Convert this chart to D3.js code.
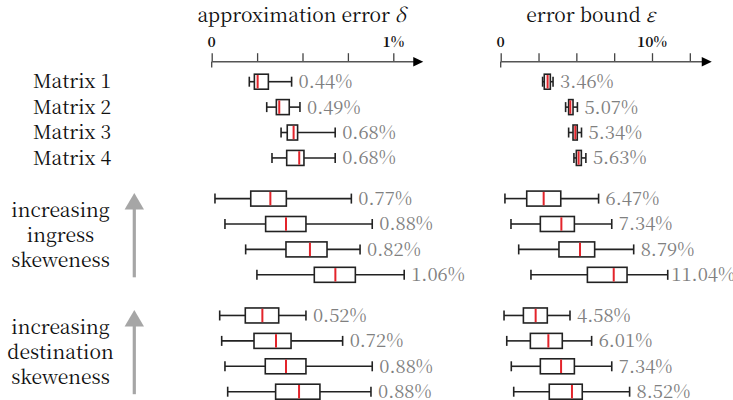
<!DOCTYPE html>
<html><head><meta charset="utf-8">
<script src="https://cdn.jsdelivr.net/npm/d3@7"></script>
<style>body{margin:0;background:#fff}svg{display:block}</style>
</head><body>
<svg id="c" width="733" height="400"></svg>
<script>
// ---- data ----
const matrixNames = ["Matrix 1","Matrix 2","Matrix 3","Matrix 4"];
const groupLabels = [["increasing","ingress","skeweness"],["increasing","destination","skeweness"]];
const rowGroup = [0,0,0,0, 1,1,1,1, 2,2,2,2];
const rowInGroup = [0,1,2,3, 0,1,2,3, 0,1,2,3];

const deltaMin = [0.207,0.303,0.382,0.332, 0.018,0.073,0.187,0.249, 0.044,0.055,0.073,0.088];
const deltaQ1  = [0.235,0.356,0.416,0.413, 0.215,0.297,0.409,0.565, 0.185,0.233,0.295,0.352];
const deltaMed = [0.253,0.372,0.451,0.482, 0.323,0.409,0.541,0.681, 0.279,0.354,0.409,0.481];
const deltaQ3  = [0.312,0.427,0.473,0.508, 0.411,0.519,0.635,0.791, 0.369,0.437,0.519,0.596];
const deltaMax = [0.44,0.486,0.68,0.68, 0.769,0.884,0.817,1.06, 0.519,0.721,0.884,0.877];
const deltaLabels = ["0.44%","0.49%","0.68%","0.68%","0.77%","0.88%","0.82%","1.06%","0.52%","0.72%","0.88%","0.88%"];

const epsMin = [2.77,4.29,4.49,4.84, 0.28,0.68,1.19,2.0, 0.22,0.40,0.70,0.86];
const epsQ1  = [2.88,4.49,4.78,5.0, 1.72,2.62,3.85,5.73, 1.5,1.96,2.62,3.21];
const epsMed = [3.10,4.60,4.93,5.15, 2.84,4.01,5.24,7.47, 2.31,3.15,3.99,4.71];
const epsQ3  = [3.28,4.78,5.06,5.33, 3.97,4.87,6.21,8.35, 3.08,4.07,4.87,5.39];
const epsMax = [3.46,5.07,5.34,5.63, 6.47,7.34,8.79,11.04, 4.58,6.01,7.34,8.52];
const epsLabels = ["3.46%","5.07%","5.34%","5.63%","6.47%","7.34%","8.79%","11.04%","4.58%","6.01%","7.34%","8.52%"];

const deltaTicks = [0,0.25,0.5,0.75,1];
const deltaTickLabels = [[0,"0"],[1,"1%"]];
const epsTicks = [0,2.5,5,7.5,10,12.5];
const epsTickLabels = [[0,"0"],[10,"10%"]];

// ---- layout ----
const W = 733;
const svg = d3.select("#c");
const serif = "'Noto Serif CJK SC', 'Liberation Serif', serif";
const groupGap = 4.6;
const slot = (i) => rowGroup[i]*groupGap + rowInGroup[i];
const y = d3.scaleLinear().domain([0, 2*groupGap+3]).range([81.7, 391.7]);
const xD = d3.scaleLinear().domain([0,1]).range([211.7, 393.3]);
const xE = d3.scaleLinear().domain([0,10]).range([500.7, 652]);
const axisY = 61.7;
const boxH = 15, capH = 10;
const rows = d3.range(matrixNames.length*3);

function panel(x, mins, q1, med, q3, maxs, labels, ticks, tickLabels, axisEnd, title, sym, titleX) {
  const g = svg.append("g");
  const t = g.append("text").attr("x", titleX).attr("y", 21.5)
    .attr("text-anchor","middle").style("font-family", serif).style("font-size","19.3px").attr("fill","#111");
  t.append("tspan").text(title + " ");
  t.append("tspan").style("font-style","italic").text(sym);
  const ax = g.append("g").attr("transform", `translate(0,${axisY})`)
    .call(d3.axisTop(x).tickValues(ticks).tickSize(8.5).tickFormat(""));
  ax.select(".domain").remove();
  ax.selectAll(".tick line").attr("stroke","#444").attr("stroke-width",1.3);
  g.append("line").attr("x1", x(0)).attr("x2", x(0)).attr("y1", axisY).attr("y2", axisY+5.7)
    .attr("stroke","#444").attr("stroke-width",1.3);
  g.append("line").attr("x1", x(0)).attr("x2", x(axisEnd)-8).attr("y1", axisY).attr("y2", axisY)
    .attr("stroke","#555").attr("stroke-width",1.5);
  const tip = x(axisEnd);
  g.append("path").attr("d", `M${tip},${axisY} L${tip-10},${axisY-4.7} L${tip-10},${axisY+4.7} Z`).attr("fill","#000");
  g.selectAll("text.tl").data(tickLabels).join("text").attr("class","tl")
    .attr("x", d => x(d[0])).attr("y", 47.3).attr("text-anchor","middle")
    .style("font-family", serif).style("font-size","14px").style("font-weight","bold").attr("fill","#111")
    .text(d => d[1]);
  const b = g.selectAll("g.box").data(rows).join("g").attr("class","box");
  b.append("line").attr("x1", i => x(mins[i])).attr("x2", i => x(q1[i])).attr("y1", i => y(slot(i))).attr("y2", i => y(slot(i)));
  b.append("line").attr("x1", i => x(q3[i])).attr("x2", i => x(maxs[i])).attr("y1", i => y(slot(i))).attr("y2", i => y(slot(i)));
  b.append("line").attr("x1", i => x(mins[i])).attr("x2", i => x(mins[i])).attr("y1", i => y(slot(i))-capH/2).attr("y2", i => y(slot(i))+capH/2);
  b.append("line").attr("x1", i => x(maxs[i])).attr("x2", i => x(maxs[i])).attr("y1", i => y(slot(i))-capH/2).attr("y2", i => y(slot(i))+capH/2);
  b.append("rect").attr("x", i => x(q1[i])).attr("width", i => x(q3[i])-x(q1[i]))
    .attr("y", i => y(slot(i))-boxH/2).attr("height", boxH).attr("fill","#fff");
  b.selectAll("line").attr("stroke","#222").attr("stroke-width",1.6);
  b.select("rect").attr("stroke","#222").attr("stroke-width",1.6);
  b.append("line").attr("x1", i => x(med[i])).attr("x2", i => x(med[i]))
    .attr("y1", i => y(slot(i))-boxH/2+0.8).attr("y2", i => y(slot(i))+boxH/2-0.8)
    .attr("stroke","#e3242b").attr("stroke-width",2);
  b.append("text").attr("y", i => y(slot(i))+6.4)
    .style("font-family", serif).style("font-size","18.5px").attr("fill","#808080")
    .text(i => labels[i])
    .attr("x", function(i) {
      const w = this.getComputedTextLength();
      return Math.max(x(maxs[i])+3.5, Math.min(x(maxs[i])+7, W-1-w));
    });
}

panel(xD, deltaMin, deltaQ1, deltaMed, deltaQ3, deltaMax, deltaLabels, deltaTicks, deltaTickLabels, 1.165, "approximation error", "δ", 301.7);
panel(xE, epsMin, epsQ1, epsMed, epsQ3, epsMax, epsLabels, epsTicks, epsTickLabels, 13.95, "error bound", "ε", 590.8);

svg.selectAll("text.mn").data(matrixNames).join("text").attr("class","mn")
  .attr("x", 111).attr("y", (d,i) => y(slot(i))+6.6).attr("text-anchor","end")
  .style("font-family", serif).style("font-size","19.3px").attr("fill","#111").text(d => d);

groupLabels.forEach((lines, gi) => {
  const first = (gi+1)*4, last = first+3;
  const cy = (y(slot(first)) + y(slot(last)))/2;
  svg.append("g").selectAll("text").data(lines).join("text")
    .attr("x", 60.5).attr("y", (d,k) => cy + (k-1)*25 + 5.5)
    .attr("text-anchor","middle").style("font-family", serif).style("font-size","19.3px").attr("fill","#111")
    .text(d => d);
  const top = y(slot(first)) - 5.5, bot = y(slot(last)) + 2.5;
  svg.append("line").attr("x1",134.3).attr("x2",134.3).attr("y1", top+14).attr("y2", bot)
    .attr("stroke","#a6a6a6").attr("stroke-width",3.2);
  svg.append("path").attr("d", `M134.3,${top} L144,${top+16.5} L124.6,${top+16.5} Z`).attr("fill","#a6a6a6");
});
</script>
</body></html>
